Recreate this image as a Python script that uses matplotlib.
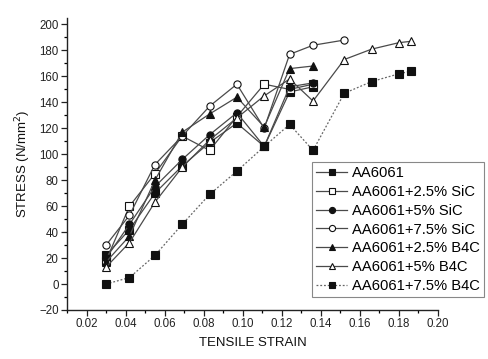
import matplotlib
matplotlib.use("Agg")
import matplotlib.pyplot as plt
from matplotlib.ticker import MultipleLocator

plt.rcParams['font.family'] = ['Liberation Sans', 'DejaVu Sans']

strain = [0.030, 0.042, 0.055, 0.069, 0.083, 0.097, 0.111, 0.124, 0.136, 0.152, 0.166, 0.180, 0.186]

aa6061       = [22, 42, 70, 91, 109, 124, 106, 148, 152]
sic_2_5      = [18, 60, 85, 114, 103, 129, 154, 150, 154]
sic_5        = [20, 46, 75, 96, 115, 132, 106, 152, 155]
sic_7_5      = [30, 53, 92, 114, 137, 154, 120, 177, 184, 188]
b4c_2_5      = [17, 37, 80, 117, 131, 144, 121, 166, 168]
b4c_5        = [13, 32, 63, 90, 111, 128, 145, 158, 141, 173, 181, 186, 187]
b4c_7_5      = [0, 5, 22, 46, 69, 87, 106, 123, 103, 147, 156, 162, 164]

labels = ["AA6061", "AA6061+2.5% SiC", "AA6061+5% SiC", "AA6061+7.5% SiC",
          "AA6061+2.5% B4C", "AA6061+5% B4C", "AA6061+7.5% B4C"]

fig = plt.figure(figsize=(4.89, 3.59), dpi=100)
ax = fig.add_axes([67/489, 1-310/359, (438-67)/489, (310-18)/359])

lc = '#4a4a4a'
mc = '#111111'
ms = 5.2
lw = 0.9
series = [
    (aa6061, 's', mc, '-'),
    (sic_2_5, 's', 'white', '-'),
    (sic_5, 'o', mc, '-'),
    (sic_7_5, 'o', 'white', '-'),
    (b4c_2_5, '^', mc, '-'),
    (b4c_5, '^', 'white', '-'),
    (b4c_7_5, 's', mc, (0, (1.5, 1.5))),
]
for (vals, mk, fc, ls), lab in zip(series, labels):
    ax.plot(strain[:len(vals)], vals, linestyle=ls,
            color=('#666666' if ls != '-' else lc), linewidth=lw,
            marker=mk, markersize=ms, markerfacecolor=fc, markeredgecolor=mc,
            markeredgewidth=0.8, label=lab)

ax.set_xlim(0.01, 0.20)
ax.set_ylim(-20, 205)
ax.xaxis.set_minor_locator(MultipleLocator(0.01))
ax.yaxis.set_minor_locator(MultipleLocator(10))
ax.set_xticks([0.02, 0.04, 0.06, 0.08, 0.10, 0.12, 0.14, 0.16, 0.18, 0.20])
ax.set_xticklabels(["0.02", "0.04", "0.06", "0.08", "0.10", "0.12", "0.14", "0.16", "0.18", "0.20"])
ax.set_yticks(range(-20, 201, 20))
ax.tick_params(axis='both', which='major', direction='out', length=4, width=0.9,
               labelsize=8.3, colors='#222222', pad=2)
ax.tick_params(axis='both', which='minor', direction='out', length=2.5, width=0.9)
for s in ['top', 'right']:
    ax.spines[s].set_visible(False)
for s in ['left', 'bottom']:
    ax.spines[s].set_color('#222222')
    ax.spines[s].set_linewidth(1.0)

ax.set_xlabel("TENSILE STRAIN", fontsize=9.5, labelpad=5, color='#111111')
ax.set_ylabel("STRESS (N/mm$^2$)", fontsize=9.5, labelpad=4, color='#111111')

leg = ax.legend(loc='upper left', bbox_to_anchor=(312/489, 1-162/359),
                bbox_transform=fig.transFigure, fontsize=10.6, frameon=True,
                fancybox=False, edgecolor='#888888', framealpha=1,
                handlelength=2.1, handletextpad=0.3, labelspacing=0.32,
                borderpad=0.3, borderaxespad=0, markerscale=0.85)
leg.get_frame().set_linewidth(0.8)

fig.savefig("out.png", dpi=100)
